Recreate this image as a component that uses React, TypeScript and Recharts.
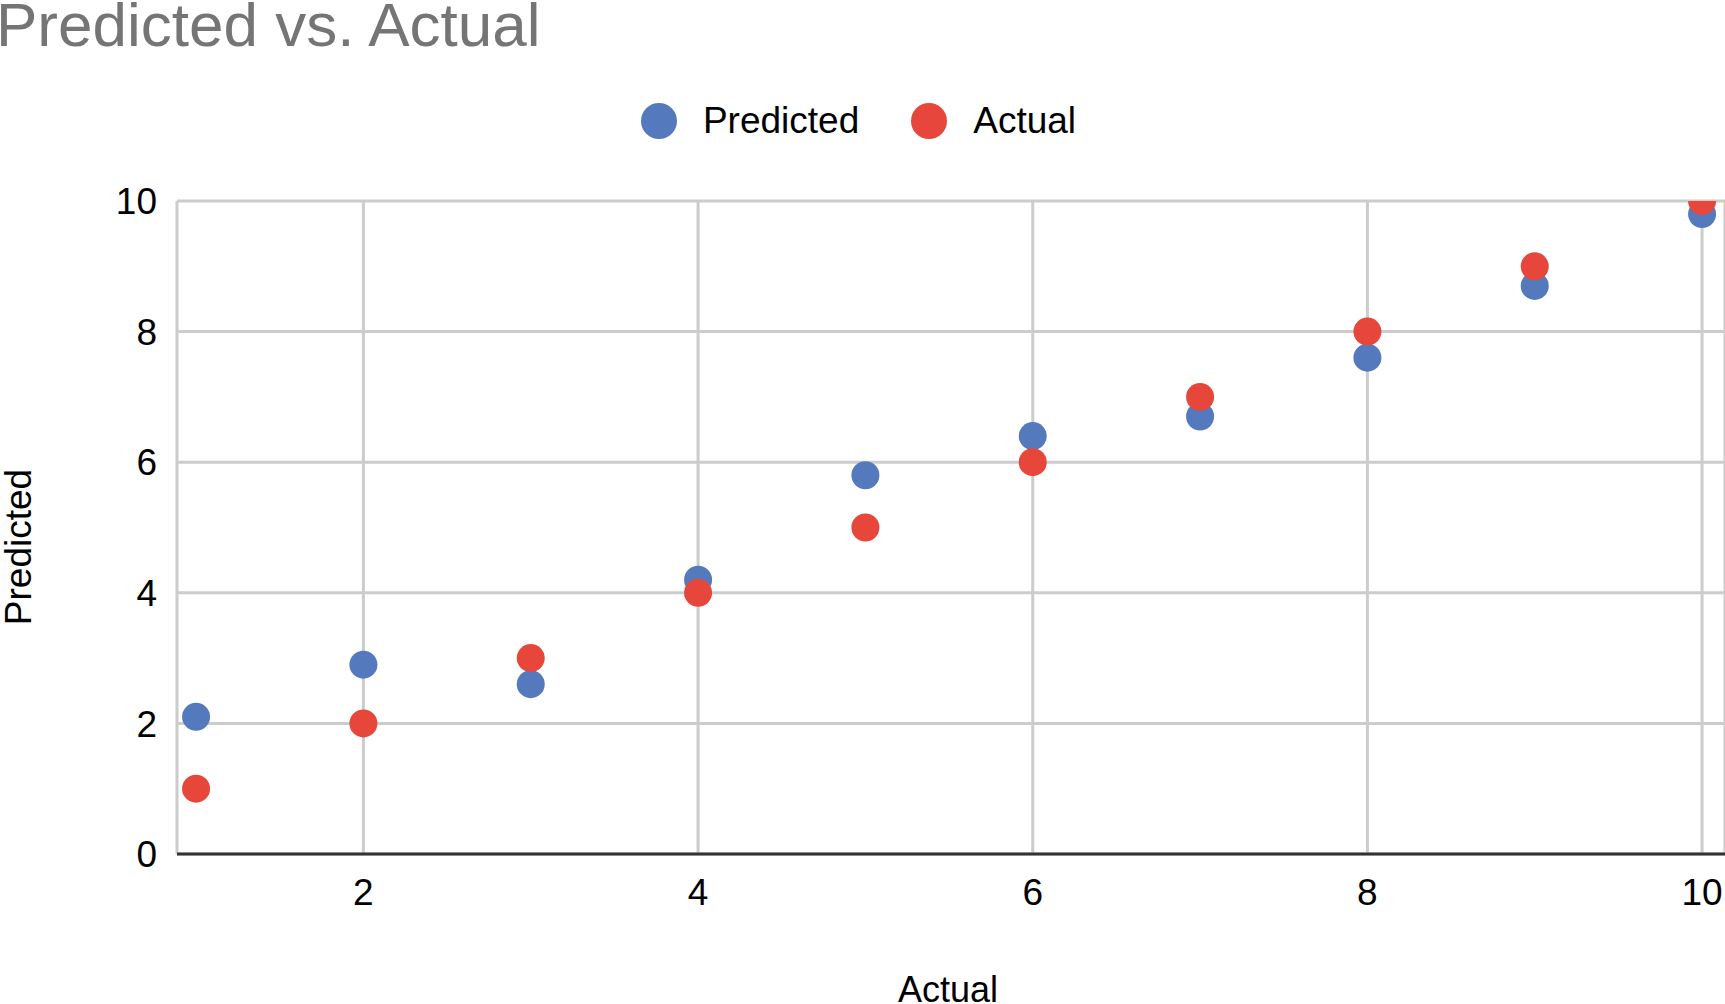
import React from 'react';
import { ScatterChart, Scatter, XAxis, YAxis, CartesianGrid, Legend } from 'recharts';

// values
const actualX = [1, 2, 3, 4, 5, 6, 7, 8, 9, 10];
const predictedY = [2.1, 2.9, 2.6, 4.2, 5.8, 6.4, 6.7, 7.6, 8.7, 9.8];
const actualY = [1, 2, 3, 4, 5, 6, 7, 8, 9, 10];
const xTicks = [2, 4, 6, 8, 10];
const yTicks = [0, 2, 4, 6, 8, 10];
const seriesNames = ['Predicted', 'Actual'];

const predictedData = actualX.map((x, i) => ({ x, y: predictedY[i] }));
const actualData = actualX.map((x, i) => ({ x, y: actualY[i] }));

const FONT = '"Liberation Sans", Arial, Helvetica, sans-serif';
const BLUE = '#5579bd';
const RED = '#e6473a';

const dotShape = (color: string) => (props: any) => (
  <circle cx={props.cx} cy={props.cy} r={14} fill={color} />
);

const LegendContent = ({ payload }: any) => {
  const items = [...(payload || [])].sort(
    (a: any, b: any) => seriesNames.indexOf(a.value) - seriesNames.indexOf(b.value)
  );
  return (
    <div
      style={{
        display: 'flex',
        justifyContent: 'center',
        alignItems: 'center',
        height: 44,
        fontFamily: FONT,
        fontSize: 37,
        color: '#000',
        paddingRight: 8,
      }}
    >
      {items.map((entry: any, i: number) => (
        <div key={entry.value} style={{ display: 'flex', alignItems: 'center', marginLeft: i ? 52 : 0 }}>
          <span
            style={{
              width: 36,
              height: 36,
              borderRadius: '50%',
              background: entry.color,
              marginRight: 26,
              flexShrink: 0,
            }}
          />
          <span>{entry.value}</span>
        </div>
      ))}
    </div>
  );
};

const XTitle = () => (
  <text x={948} y={1002} textAnchor="middle" fontSize={36} fill="#000" fontFamily={FONT}>
    Actual
  </text>
);

const YTitle = () => (
  <text transform="translate(31, 547) rotate(-90)" textAnchor="middle" fontSize={37} fill="#000" fontFamily={FONT}>
    Predicted
  </text>
);

export default function App() {
  return (
    <div style={{ position: 'absolute', left: 0, top: 0, width: 1725, height: 1004, fontFamily: FONT, background: '#fff' }}>
      <ScatterChart width={1725} height={1004} margin={{ top: 201, right: 0, bottom: 0, left: 0 }}>
        <CartesianGrid stroke="#cccccc" strokeWidth={3} />
        <XAxis
          type="number"
          dataKey="x"
          domain={[0.886, 10.137]}
          allowDataOverflow
          ticks={xTicks}
          interval={0}
          height={150}
          tickLine={false}
          tickSize={0}
          tickMargin={25}
          axisLine={{ stroke: '#333333', strokeWidth: 3 }}
          tick={{ fontSize: 37, fill: '#000' }}
          label={<XTitle />}
        />
        <YAxis
          type="number"
          dataKey="y"
          domain={[0, 10]}
          allowDataOverflow
          ticks={yTicks}
          interval={0}
          width={177}
          axisLine={false}
          tickLine={false}
          tickSize={0}
          tickMargin={20}
          tick={{ fontSize: 37, fill: '#000' }}
          label={<YTitle />}
        />
        <Legend
          layout="horizontal"
          verticalAlign="middle"
          align="center"
          wrapperStyle={{ top: 99, left: 0, width: 1725, height: 44 }}
          content={<LegendContent />}
        />
        <Scatter
          name="Predicted"
          data={predictedData}
          fill={BLUE}
          shape={dotShape(BLUE)}
          isAnimationActive={false}
        />
        <Scatter
          name="Actual"
          data={actualData}
          fill={RED}
          shape={dotShape(RED)}
          isAnimationActive={false}
        />
      </ScatterChart>
      <svg width={1725} height={80} style={{ position: 'absolute', left: 0, top: 0, pointerEvents: 'none' }}>
        <text x={-4} y={46} fontSize={62} fill="#757575" fontFamily={FONT}>
          Predicted vs. Actual
        </text>
      </svg>
    </div>
  );
}
